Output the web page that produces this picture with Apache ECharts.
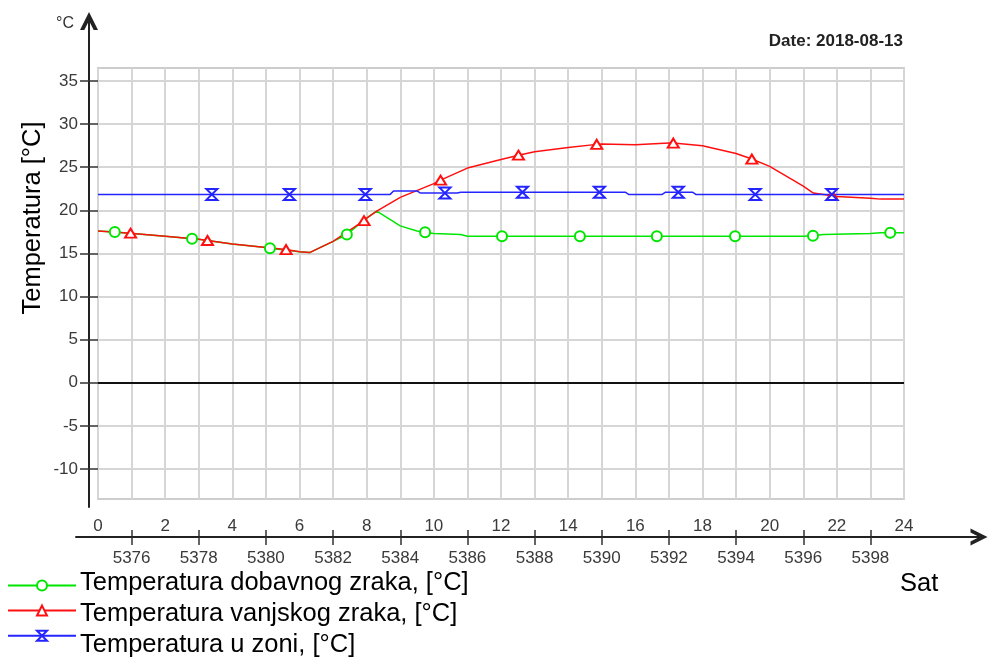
<!DOCTYPE html>
<html><head><meta charset="utf-8">
<script src="https://cdn.jsdelivr.net/npm/echarts@6/dist/echarts.min.js"></script>
<style>html,body{margin:0;padding:0;background:#fff}#c{width:988px;height:661px}</style>
</head><body><div id="c"></div>
<script>
const FONT = "'Liberation Sans', Arial, sans-serif";

// ---- data (hours of the day, °C) ----
const supplyName = 'Temperatura dobavnog zraka, [°C]';
const outdoorName = 'Temperatura vanjskog zraka, [°C]';
const zoneName = 'Temperatura u zoni, [°C]';

const supplyHours  = [0, 1, 2, 3, 4, 5, 6, 6.3, 7, 8, 8.3, 9, 9.5, 10, 10.8, 11, 21, 21.6, 23, 23.3, 24];
const supplyValues = [17.6, 17.3, 17.0, 16.65, 16.1, 15.7, 15.2, 15.1, 16.4, 19.1, 19.9, 18.2, 17.6, 17.3, 17.2, 17.0, 17.0, 17.2, 17.3, 17.4, 17.4];
const supplyMarkerHours  = [0.5, 2.8, 5.12, 7.41, 9.74, 12.03, 14.35, 16.64, 18.97, 21.29, 23.59];
const supplyMarkerValues = [17.5, 16.7, 15.6, 17.2, 17.45, 17.0, 17.0, 17.0, 17.0, 17.05, 17.4];

const outdoorHours  = [0, 1, 2, 3, 4, 5, 6, 6.3, 7, 8, 8.3, 9, 10, 11, 12, 13, 14, 15, 16, 17, 18, 19, 20, 21, 21.3, 22, 23, 23.3, 24];
const outdoorValues = [17.6, 17.3, 17.0, 16.65, 16.1, 15.7, 15.2, 15.1, 16.4, 19.1, 19.9, 21.5, 23.1, 24.9, 25.9, 26.8, 27.3, 27.7, 27.6, 27.8, 27.5, 26.6, 25.1, 22.8, 22.0, 21.6, 21.4, 21.3, 21.3];
const outdoorMarkerHours  = [0.97, 3.26, 5.6, 7.92, 10.2, 12.52, 14.85, 17.13, 19.47, 21.86];
const outdoorMarkerValues = [17.35, 16.5, 15.45, 18.8, 23.5, 26.4, 27.65, 27.8, 25.95, 21.7];

const zoneHours  = [0, 8.7, 8.8, 9.5, 9.6, 10.7, 10.8, 15.7, 15.8, 16.8, 16.9, 17.7, 17.8, 24];
const zoneValues = [21.85, 21.85, 22.25, 22.25, 22.0, 22.0, 22.1, 22.1, 21.85, 21.85, 22.1, 22.1, 21.85, 21.85];
const zoneMarkerHours  = [3.39, 5.7, 7.96, 10.33, 12.64, 14.93, 17.28, 19.57, 21.85];
const zoneMarkerValues = [21.85, 21.85, 21.85, 22.0, 22.1, 22.1, 22.1, 21.85, 21.85];

// axis ticks / labels
const hourLabelValues = [0, 2, 4, 6, 8, 10, 12, 14, 16, 18, 20, 22, 24];
const sampleTickHours = [1, 3, 5, 7, 9, 11, 13, 15, 17, 19, 21, 23];
const sampleTickLabels = ['5376', '5378', '5380', '5382', '5384', '5386', '5388', '5390', '5392', '5394', '5396', '5398'];

function buildData(hs, vs, mh, mv) {
  const pts = hs.map((h, i) => ({ value: [h, vs[i]], symbol: 'none' }));
  mh.forEach((h, i) => pts.push({ value: [h, mv[i]] }));
  pts.sort((a, b) => a.value[0] - b.value[0]);
  return pts;
}

const GREEN = '#00e600', RED = '#ff1010', BLUE = '#2424ff';
const X0 = 98, XW = 806;             // plot box
const PXH = XW / 24;                  // px per hour
const AX_L = 76, AX_R = 979;          // bottom axis line
const axMin = -(X0 - AX_L) / PXH;
const axMax = (AX_R - X0) / PXH;
const tickColor = '#333';
const labelColor = '#3a3a3a';
const ARROW = 'path://M5,0 L10,10 L7.6,10 L5,4.8 L2.4,10 L0,10 Z';

const chart = echarts.init(document.getElementById('c'), null, { renderer: 'canvas' });
chart.setOption({
  animation: false,
  backgroundColor: '#fff',
  textStyle: { fontFamily: FONT },
  grid: [
    { left: X0, width: XW, top: 68, bottom: 162, show: true, borderColor: '#cdcdcd', borderWidth: 2, backgroundColor: 'transparent', outerBoundsMode: 'none', containLabel: false },
    { left: X0, width: XW, top: 81, bottom: 192, outerBoundsMode: 'none', containLabel: false },
    { left: 89, width: 1, top: 21, bottom: 154, outerBoundsMode: 'none', containLabel: false },
    { left: AX_L, width: AX_R - AX_L, top: 536, height: 1, outerBoundsMode: 'none', containLabel: false }
  ],
  xAxis: [
    { gridIndex: 0, type: 'value', min: 0, max: 24, interval: 1,
      axisLine: { show: false }, axisTick: { show: false }, axisLabel: { show: false },
      splitLine: { show: true, lineStyle: { color: '#d6d6d6', width: 2 } } },
    { gridIndex: 1, type: 'value', min: 0, max: 24, show: false },
    { gridIndex: 2, type: 'value', min: 0, max: 1, show: false },
    { gridIndex: 3, type: 'value', min: axMin, max: axMax, position: 'bottom',
      axisLine: { show: true, symbol: ['none', ARROW], symbolSize: [20, 17], lineStyle: { color: '#222', width: 2 } },
      axisTick: { show: true, customValues: sampleTickHours, length: 8, lineStyle: { color: tickColor, width: 1.5 } },
      axisLabel: { show: true, customValues: sampleTickHours, margin: 13, fontSize: 17, color: labelColor, fontFamily: FONT,
        formatter: v => sampleTickLabels[sampleTickHours.indexOf(Math.round(v))] || '' },
      splitLine: { show: false } },
    { gridIndex: 3, type: 'value', min: axMin, max: axMax, position: 'top',
      axisLine: { show: false },
      axisTick: { show: true, customValues: sampleTickHours, length: 6, lineStyle: { color: tickColor, width: 1.5 } },
      axisLabel: { show: true, customValues: hourLabelValues, margin: 1, fontSize: 17, color: labelColor, fontFamily: FONT },
      splitLine: { show: false } }
  ],
  yAxis: [
    { gridIndex: 0, type: 'value', min: 0, max: 1, show: false },
    { gridIndex: 1, type: 'value', min: -10, max: 35, interval: 5,
      axisLine: { show: false },
      axisTick: { show: true, length: 18, lineStyle: { color: tickColor, width: 1.5 } },
      axisLabel: { show: true, margin: 20, fontSize: 17, color: labelColor, fontFamily: FONT },
      splitLine: { show: true, lineStyle: { color: '#d6d6d6', width: 2 } } },
    { gridIndex: 2, type: 'value', min: 0, max: 1, position: 'left',
      axisLine: { show: true, symbol: ['none', ARROW], symbolSize: [20, 18], lineStyle: { color: '#222', width: 2 } },
      axisTick: { show: false }, axisLabel: { show: false }, splitLine: { show: false } },
    { gridIndex: 3, type: 'value', min: 0, max: 1, show: false }
  ],
  legend: [
    { // icons (line + marker)
      orient: 'vertical', left: 7, top: 579.5, padding: 0, itemGap: 13.1,
      itemWidth: 68, itemHeight: 12.5, selectedMode: false,
      formatter: () => '',
      textStyle: { fontSize: 1, lineHeight: 1, padding: 0 },
      data: [supplyName, outdoorName, zoneName] },
    { // texts
      orient: 'vertical', left: 7, top: 569.5, padding: 0, itemGap: 5,
      itemWidth: 68, itemHeight: 12, selectedMode: false, icon: 'rect',
      itemStyle: { color: 'rgba(0,0,0,0)', borderWidth: 0, opacity: 0 },
      lineStyle: { opacity: 0 },
      textStyle: { fontSize: 25.5, color: '#000', fontFamily: FONT, lineHeight: 26, padding: 0 },
      data: [supplyName, outdoorName, zoneName] }
  ],
  graphic: [
    { type: 'text', left: 56, top: 16, silent: true,
      style: { text: '°C', fontSize: 16, fill: '#333', fontFamily: FONT } },
    { type: 'text', x: 33, y: 218, rotation: Math.PI / 2, silent: true,
      style: { text: 'Temperatura [°C]', fontSize: 25.5, fill: '#000', fontFamily: FONT, align: 'center', verticalAlign: 'middle' } },
    { type: 'text', x: 903, y: 41, silent: true,
      style: { text: 'Date: 2018-08-13', fontSize: 17, fontWeight: 'bold', fill: '#222', fontFamily: FONT, align: 'right', verticalAlign: 'middle' } },
    { type: 'text', x: 900, y: 584, silent: true,
      style: { text: 'Sat', fontSize: 25.5, fill: '#000', fontFamily: FONT, align: 'left', verticalAlign: 'middle' } }
  ],
  series: [
    { name: supplyName, type: 'line', xAxisIndex: 1, yAxisIndex: 1, silent: true,
      data: buildData(supplyHours, supplyValues, supplyMarkerHours, supplyMarkerValues),
      symbol: 'emptyCircle', symbolSize: 10, showAllSymbol: true, color: GREEN,
      lineStyle: { color: GREEN, width: 1.5 }, itemStyle: { color: GREEN, borderWidth: 1.5 } },
    { name: outdoorName, type: 'line', xAxisIndex: 1, yAxisIndex: 1, silent: true,
      data: buildData(outdoorHours, outdoorValues, outdoorMarkerHours, outdoorMarkerValues),
      symbol: 'emptyTriangle', symbolSize: [11, 9], showAllSymbol: true, color: RED,
      lineStyle: { color: RED, width: 1.5 }, itemStyle: { color: RED, borderWidth: 1.5 },
      markLine: { silent: true, symbol: 'none', label: { show: false }, animation: false,
        lineStyle: { color: '#111', width: 2, type: 'solid' }, data: [{ yAxis: 0 }] } },
    { name: zoneName, type: 'line', xAxisIndex: 1, yAxisIndex: 1, silent: true,
      data: buildData(zoneHours, zoneValues, zoneMarkerHours, zoneMarkerValues),
      symbol: 'emptypath://M0,0 L10,0 L0,10 L10,10 Z', symbolSize: 11, showAllSymbol: true, color: BLUE,
      lineStyle: { color: BLUE, width: 1.5 }, itemStyle: { color: BLUE, borderWidth: 1.5 } }
  ]
});
</script></body></html>
